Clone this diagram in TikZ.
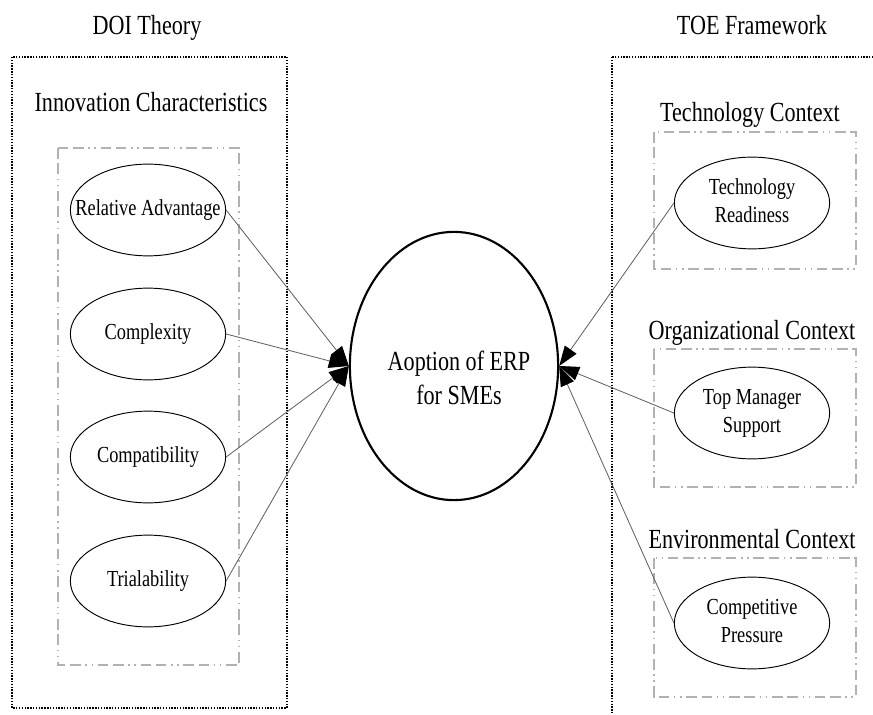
\documentclass[tikz,border=0pt]{standalone}
\usepackage{fontspec}
\setmainfont{Liberation Serif}[FakeStretch=0.8]
\usetikzlibrary{arrows.meta,shapes.geometric}

\newcommand{\lbl}[1]{\makebox[0pt]{\raisebox{-2.5pt}{\begin{tabular}{@{}c@{}}#1\end{tabular}}}}

\tikzset{
	factor/.style={draw, ellipse, line width=0.8pt, inner sep=0pt,
		minimum width=132pt, minimum height=78pt,
		font=\fontsize{19.5}{23.5}\selectfont},
	hub/.style={draw, ellipse, line width=1.8pt, inner sep=0pt,
		minimum width=177pt, minimum height=228pt},
	heading/.style={anchor=base, font=\fontsize{23.5}{28}\selectfont},
	outerbox/.style={line width=0.9pt, dash pattern=on 1.2pt off 1.2pt},
	groupbox/.style={gray!60, line width=0.9pt,
		dash pattern=on 9pt off 4pt on 9pt off 4pt on 1.2pt off 4pt on 1.2pt off 4pt},
	link/.style={gray!75!black, line width=0.7pt,
		-{Triangle[length=17pt,width=12pt,black]}},
}

\begin{document}
\begin{tikzpicture}[x=0.85pt, y=-0.85pt]
	\clip (0,0) rectangle (873,715);
	% frames
	\draw[outerbox] (12,57) rectangle (287,708);
	\draw[outerbox] (612,57) rectangle (880,730);
	\draw[groupbox] (58,148) rectangle (239,665);
	\draw[groupbox] (654,132) rectangle (856,269);
	\draw[groupbox] (654,349) rectangle (856,487);
	\draw[groupbox] (654,558) rectangle (856,697);
	% headings
	\node[heading] (doi) at (147,35) {DOI Theory};
	\node[heading] (toe) at (752,35) {TOE Framework};
	\node[heading] (innov) at (151,112) {Innovation Characteristics};
	\node[heading] (techctx) at (750,122) {Technology Context};
	\node[heading] (orgctx) at (752,339) {Organizational Context};
	\node[heading] (envctx) at (752,548) {Environmental Context};
	% DOI factors
	\node[factor] (ra) at (148,210) {\lbl{Relative Advantage}};
	\node[factor] (cx) at (148,334) {\lbl{Complexity}};
	\node[factor] (cp) at (148,457) {\lbl{Compatibility}};
	\node[factor] (tr) at (148,581) {\lbl{Trialability}};
	% TOE factors
	\node[factor] (tech) at (752,203) {\lbl{Technology\\Readiness}};
	\node[factor] (tms) at (752,413) {\lbl{Top Manager\\Support}};
	\node[factor] (comp) at (752,623) {\lbl{Competitive\\Pressure}};
	% adoption
	\node[hub] (erp) at (454,366) {};
	\node[align=center, font=\fontsize{23.5}{28.5}\selectfont] (erptext) at (459,378) {Aoption of ERP\\for SMEs};
	% links
	\draw[link] (ra.east) -- (erp.west);
	\draw[link] (cx.east) -- (erp.west);
	\draw[link] (cp.east) -- (erp.west);
	\draw[link] (tr.east) -- (erp.west);
	\draw[link] (tech.west) -- (erp.east);
	\draw[link] (tms.west) -- (erp.east);
	\draw[link] (comp.west) -- (erp.east);
\end{tikzpicture}
\end{document}
